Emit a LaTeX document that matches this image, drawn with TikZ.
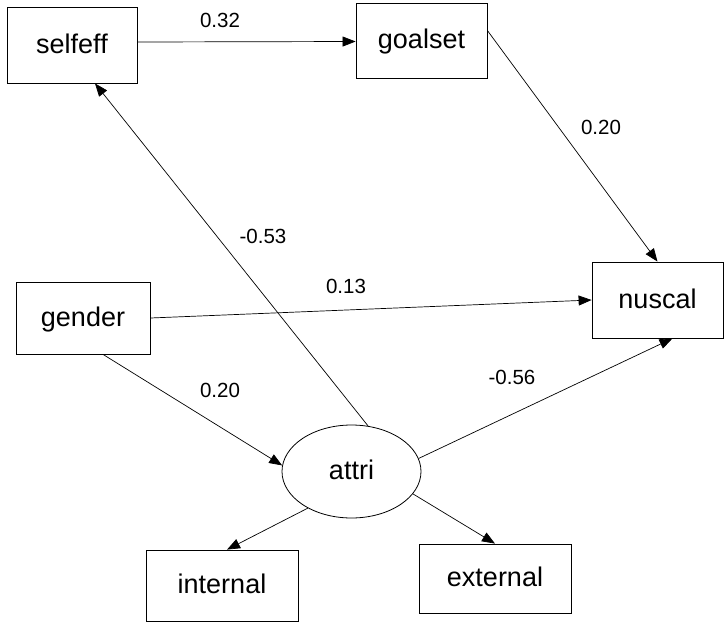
\documentclass[tikz,border=0pt]{standalone}
\usepackage{fontspec}
\setmainfont{Liberation Sans}
\usetikzlibrary{arrows.meta,shapes.geometric}

\tikzset{
    obsvar/.style={draw, rectangle, line width=0.8pt, inner sep=0pt, text height=20pt, text depth=4pt, font=\fontsize{27}{32}\selectfont},
    latvar/.style={draw, ellipse, line width=0.8pt, inner sep=0pt, minimum width=139pt, minimum height=93pt, text height=20pt, text depth=4pt, font=\fontsize{27}{32}\selectfont},
    effect/.style={-{Triangle[length=13pt,width=10pt]}, line width=0.7pt},
    coef/.style={font=\fontsize{20.5}{24}\selectfont}
}

\begin{document}
\begin{tikzpicture}[x=1pt, y=-1pt]
    \useasboundingbox (0,0) rectangle (724,622);
    \node[obsvar, minimum width=130pt, minimum height=76pt] (selfeff) at (72,45) {selfeff};
    \node[obsvar, minimum width=131pt, minimum height=75pt] (goalset) at (421.5,40.5) {goalset};
    \node[obsvar, minimum width=134pt, minimum height=72pt] (gender) at (83,318) {gender};
    \node[obsvar, minimum width=131pt, minimum height=76pt] (nuscal) at (657.5,300) {nuscal};
    \node[latvar] (attri) at (351.5,471.5) {attri};
    \node[obsvar, minimum width=152pt, minimum height=71pt] (internal) at (222,585.5) {internal};
    \node[obsvar, minimum width=152pt, minimum height=69pt] (external) at (495,578.5) {external};
    \draw[effect] ([yshift=3pt]selfeff.east) -- ([yshift=-1pt]goalset.west);
    \draw[effect] ([yshift=10pt]goalset.east) -- (nuscal.north);
    \draw[effect] (gender.east) -- (nuscal.west);
    \draw[effect] ([xshift=20pt]gender.south) -- (attri.175);
    \draw[effect] (attri.70) -- ([xshift=23pt]selfeff.south);
    \draw[effect] (attri.11) -- ([xshift=15pt]nuscal.south);
    \draw[effect] (attri.220) -- ([xshift=5pt]internal.north);
    \draw[effect] (attri.340) -- (external.north);
    \node[coef] (selfeff-goalset) at (220,20) {0.32};
    \node[coef] (goalset-nuscal) at (601,127) {0.20};
    \node[coef] (gender-nuscal) at (346,286) {0.13};
    \node[coef] (attri-selfeff) at (263,236) {-0.53};
    \node[coef] (gender-attri) at (220,390) {0.20};
    \node[coef] (attri-nuscal) at (512,377) {-0.56};
\end{tikzpicture}
\end{document}
